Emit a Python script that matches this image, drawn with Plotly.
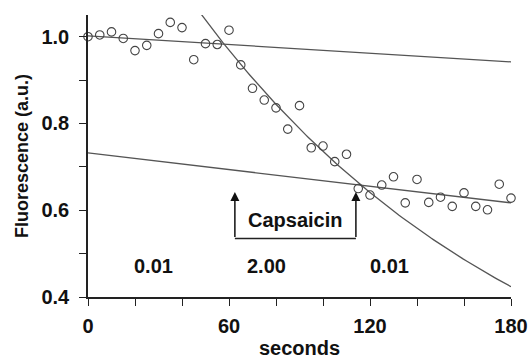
import numpy as np
import plotly.graph_objects as go

# ---- data ----
seconds = list(range(0, 181, 5))
fluorescence = [1.000, 1.004, 1.011, 0.996, 0.968, 0.980, 1.007, 1.033, 1.021, 0.947,
                0.984, 0.982, 1.015, 0.935, 0.881, 0.854, 0.836, 0.787, 0.841, 0.744,
                0.748, 0.712, 0.729, 0.650, 0.635, 0.658, 0.677, 0.617, 0.671, 0.618,
                0.630, 0.609, 0.640, 0.609, 0.601, 0.660, 0.628]

# linear fits (start / end at x = 0 and 180)
fit_x = [0, 180]
fit_upper = [1.002, 0.942]
fit_lower = [0.732, 0.617]

# exponential decay fit  y = A * exp(-k * x)
exp_A = 1.465
exp_k = 0.00689
exp_x = np.linspace(45, 180, 120)
exp_y = exp_A * np.exp(-exp_k * exp_x)

# rate labels
rate_x = [27.7, 75.8, 128.3]
rate_text = ["0.01", "2.00", "0.01"]
rate_y = 0.471

# capsaicin bracket
caps_start, caps_end = 62.5, 114.0
caps_bottom, caps_top = 0.535, 0.642

x_tickvals = list(range(0, 181, 20))
x_ticktext = [str(v) if v % 60 == 0 else "" for v in x_tickvals]
y_tickvals = [0.4, 0.5, 0.6, 0.7, 0.8, 0.9, 1.0]
y_ticktext = ["0.4", "", "0.6", "", "0.8", "", "1.0"]

FONT = "Liberation Sans, Arial, Helvetica, sans-serif"
LINE_COL = "#555555"
FS = 20

fig = go.Figure()
fig.add_trace(go.Scatter(x=fit_x, y=fit_upper, mode="lines",
                         line=dict(color=LINE_COL, width=1.3), showlegend=False))
fig.add_trace(go.Scatter(x=fit_x, y=fit_lower, mode="lines",
                         line=dict(color=LINE_COL, width=1.3), showlegend=False))
fig.add_trace(go.Scatter(x=exp_x, y=exp_y, mode="lines",
                         line=dict(color=LINE_COL, width=1.3), showlegend=False))
fig.add_trace(go.Scatter(x=seconds, y=fluorescence, mode="markers",
                         marker=dict(symbol="circle-open", size=8.5,
                                     color="#444444", line=dict(width=1.1)),
                         cliponaxis=False, showlegend=False))

# bracket horizontal line
fig.add_shape(type="line", x0=caps_start, x1=caps_end, y0=caps_bottom, y1=caps_bottom,
              xref="x", yref="y", line=dict(color="#222222", width=1.5))
for xa in (caps_start, caps_end):
    fig.add_annotation(x=xa, y=caps_top, ax=xa, ay=caps_bottom, xref="x", yref="y",
                       axref="x", ayref="y", showarrow=True, arrowhead=2,
                       arrowsize=1.2, arrowwidth=1.5, arrowcolor="#111111", text="")

fig.add_annotation(x=(caps_start + caps_end) / 2, y=0.577, text="<b>Capsaicin</b>",
                   showarrow=False, font=dict(family=FONT, size=FS, color="#111111"))
for xv, t in zip(rate_x, rate_text):
    fig.add_annotation(x=xv, y=rate_y, text=f"<b>{t}</b>", showarrow=False,
                       font=dict(family=FONT, size=FS, color="#111111"))

axis_common = dict(showgrid=False, zeroline=False, showline=True, linecolor="#222222",
                   linewidth=1.5, ticks="outside", ticklen=7, tickwidth=1.2,
                   tickcolor="#222222", automargin=False,
                   tickfont=dict(family=FONT, size=FS, color="#111111"))

fig.update_xaxes(range=[0, 180], tickmode="array", tickvals=x_tickvals,
                 ticktext=[f"<b>{t}</b>" if t else "" for t in x_ticktext],
                 ticklabelstandoff=3,
                 title=dict(text="<b>seconds</b>", standoff=12,
                            font=dict(family=FONT, size=FS, color="#111111")),
                 **axis_common)
fig.update_yaxes(range=[0.4, 1.05], tickmode="array", tickvals=y_tickvals,
                 ticktext=[f"<b>{t}</b>" if t else "" for t in y_ticktext],
                 ticklabelstandoff=6,
                 title=dict(text="<b>Fluorescence (a.u.)</b>", standoff=8,
                            font=dict(family=FONT, size=18, color="#111111")),
                 **axis_common)

fig.update_layout(width=529, height=359, margin=dict(l=88, r=18, t=15, b=62),
                  plot_bgcolor="white", paper_bgcolor="white",
                  font=dict(family=FONT))

# remove the default page margin so the 529x359 figure fills the window exactly
fig.write_html("out.html",
               config={"displayModeBar": False},
               post_script="document.body.style.margin='0';"
                           "document.body.style.overflow='hidden';")
